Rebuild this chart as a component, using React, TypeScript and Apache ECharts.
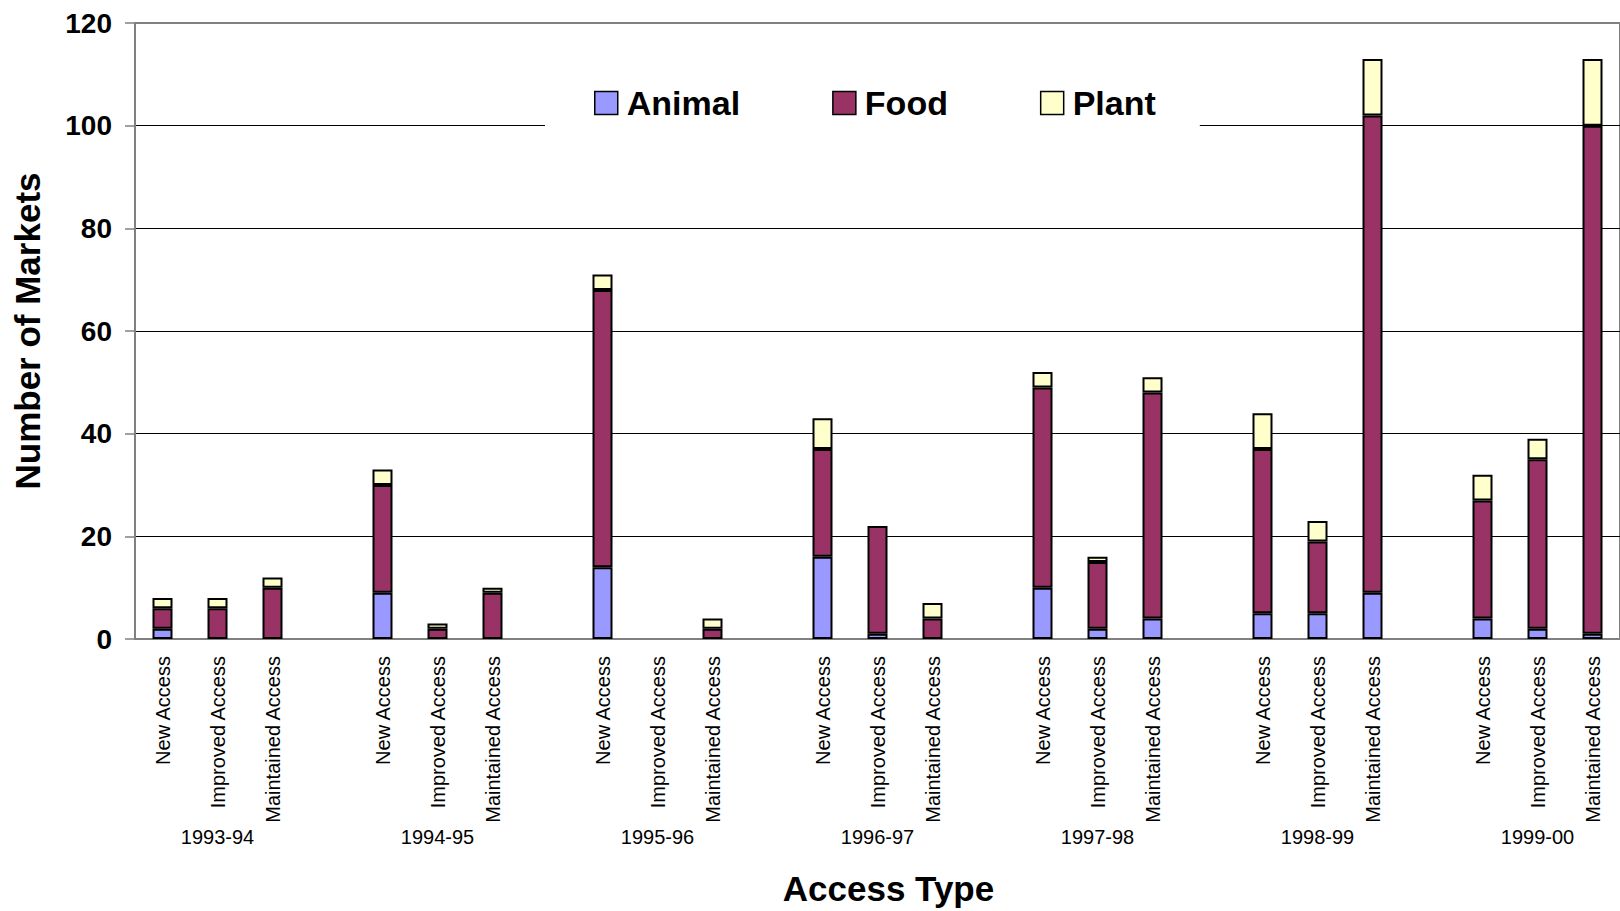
import React, { useEffect, useRef } from "react";
import * as echarts from "echarts";

const years = ["1993-94", "1994-95", "1995-96", "1996-97", "1997-98", "1998-99", "1999-00"];
const accessTypes = ["New Access", "Improved Access", "Maintained Access"];

// values per (year, access type), in order year-by-year
const animal = [2, 0, 0, 9, 0, 0, 14, 0, 0, 16, 1, 0, 10, 2, 4, 5, 5, 9, 4, 2, 1];
const food = [4, 6, 10, 21, 2, 9, 54, 0, 2, 21, 21, 4, 39, 13, 44, 32, 14, 93, 23, 33, 99];
const plant = [2, 2, 2, 3, 1, 1, 3, 0, 2, 6, 0, 3, 3, 1, 3, 7, 4, 11, 5, 4, 13];

const yTicks = { min: 0, max: 120, interval: 20 };

const FONT = "'Liberation Sans', Arial, Helvetica, sans-serif";

function buildSlots<T>(perCat: (yi: number, ai: number) => T, blank: T): T[] {
  const out: T[] = [];
  years.forEach((_, yi) => {
    accessTypes.forEach((_, ai) => out.push(perCat(yi, ai)));
    if (yi < years.length - 1) out.push(blank);
  });
  return out;
}

export default function App() {
  const ref = useRef<HTMLDivElement>(null);

  useEffect(() => {
    if (!ref.current) return;
    const chart = echarts.init(ref.current, undefined, { renderer: "svg" });

    const catLabels = buildSlots((_, ai) => accessTypes[ai], "");
    const yearLabels = buildSlots((yi, ai) => (ai === 1 ? years[yi] : ""), "");
    const toSlots = (arr: number[]) =>
      buildSlots<number | null>((yi, ai) => {
        const v = arr[yi * accessTypes.length + ai];
        return v === 0 ? null : v;
      }, null);

    const barStyle = (color: string) => ({
      color,
      borderColor: "#000",
      borderWidth: 2,
    });

    chart.setOption({
      animation: false,
      backgroundColor: "#fff",
      textStyle: { fontFamily: FONT },
      grid: {
        left: 135,
        top: 23,
        width: 1493,
        height: 617,
        show: true,
        borderColor: "#808080",
        borderWidth: 2,
        backgroundColor: "transparent",
      },
      legend: {
        left: 545,
        top: 66,
        padding: [20, 44, 20, 49],
        backgroundColor: "#fff",
        itemWidth: 23,
        itemHeight: 23,
        itemGap: 92,
        icon: "rect",
        itemStyle: { borderColor: "#000", borderWidth: 1.5 },
        textStyle: {
          fontFamily: FONT,
          fontSize: 34,
          fontWeight: "bold",
          color: "#000",
          padding: [0, 0, 0, 4],
        },
        data: ["Animal", "Food", "Plant"],
      },
      xAxis: [
        {
          type: "category",
          data: catLabels,
          position: "bottom",
          axisLine: { lineStyle: { color: "#808080", width: 2 } },
          axisTick: { interval: 0, length: 7, lineStyle: { color: "#808080", width: 1.5 } },
          axisLabel: {
            interval: 0,
            rotate: 90,
            fontSize: 20,
            color: "#000",
            margin: 17,
            fontFamily: FONT,
          },
          name: "Access Type",
          nameLocation: "middle",
          nameGap: 232,
          nameTextStyle: {
            fontSize: 35,
            fontWeight: "bold",
            color: "#000",
            fontFamily: FONT,
            padding: [0, 0, 0, 22],
          },
        },
        {
          type: "category",
          data: yearLabels,
          position: "bottom",
          offset: 180,
          axisLine: { show: false },
          axisTick: { show: false },
          splitLine: { show: false },
          axisLabel: {
            interval: 0,
            fontSize: 20,
            color: "#000",
            margin: 8,
            fontFamily: FONT,
          },
        },
      ],
      yAxis: {
        type: "value",
        min: yTicks.min,
        max: yTicks.max,
        interval: yTicks.interval,
        axisLine: { show: true, lineStyle: { color: "#808080", width: 2 } },
        axisTick: { show: true, length: 10, lineStyle: { color: "#808080", width: 1.5 } },
        axisLabel: {
          fontSize: 28,
          fontWeight: "bold",
          color: "#000",
          margin: 23,
          fontFamily: FONT,
        },
        splitLine: {
          show: true,
          lineStyle: {
            color: ["#000", "#000", "#000", "#000", "#000", "#000", "#808080"],
            width: 1,
          },
        },
        name: "Number of Markets",
        nameLocation: "middle",
        nameGap: 90,
        nameTextStyle: {
          fontSize: 35,
          fontWeight: "bold",
          color: "#000",
          fontFamily: FONT,
        },
      },
      series: [
        {
          name: "Animal",
          type: "bar",
          stack: "total",
          barWidth: 20,
          data: toSlots(animal),
          itemStyle: barStyle("#9999FF"),
        },
        {
          name: "Food",
          type: "bar",
          stack: "total",
          barWidth: 20,
          data: toSlots(food),
          itemStyle: barStyle("#993366"),
        },
        {
          name: "Plant",
          type: "bar",
          stack: "total",
          barWidth: 20,
          data: toSlots(plant),
          itemStyle: barStyle("#FFFFCC"),
        },
      ],
    });

    return () => chart.dispose();
  }, []);

  return (
    <div
      ref={ref}
      style={{ position: "fixed", left: 0, top: 0, width: 1620, height: 911, background: "#fff" }}
    />
  );
}
